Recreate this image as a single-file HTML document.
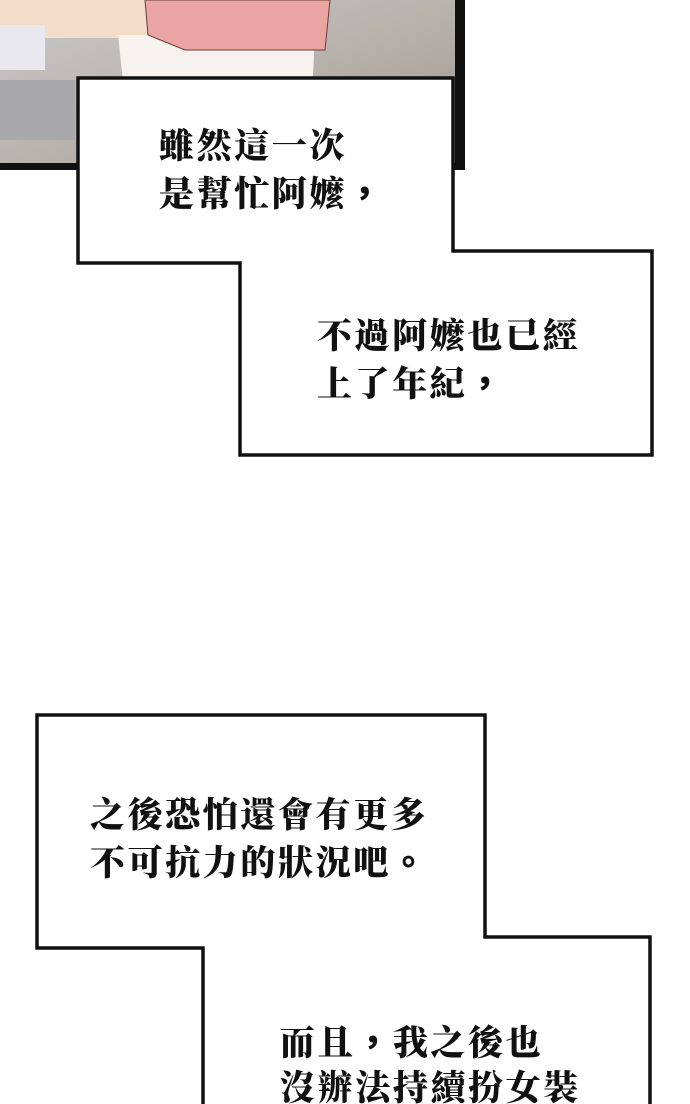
<!DOCTYPE html>
<html><head><meta charset="utf-8"><style>
html,body{margin:0;padding:0;background:#fff;}
#w{position:relative;width:690px;height:1104px;overflow:hidden;background:#fff;}
.t{position:absolute;font-family:"Liberation Serif","Noto Serif CJK SC",serif;font-weight:900;font-size:35px;letter-spacing:2.6px;line-height:45px;color:#111;white-space:nowrap;}
.p{font-family:"Noto Sans CJK TC",sans-serif;font-weight:900;}
</style></head><body><div id="w">
<svg width="690" height="1104" style="position:absolute;left:0;top:0">
<defs>
<linearGradient id="bg" x1="0" y1="0" x2="1" y2="1">
<stop offset="0" stop-color="#c9c9cb"/><stop offset="0.5" stop-color="#b9b3ae"/><stop offset="1" stop-color="#9f948d"/>
</linearGradient>
</defs>
<rect x="0" y="0" width="462" height="166" fill="url(#bg)"/>
<rect x="0" y="0" width="150" height="38" fill="#f3dcc8"/>
<rect x="0" y="25" width="45" height="45" fill="#e8e8ee"/>
<path d="M118 35 L315 35 L312 95 L125 100 Z" fill="#f7f2ee"/>
<path d="M145 0 L330 0 L325 50 L185 50 L148 35 Z" fill="#eaa5a2" stroke="#6b3b3b" stroke-width="1"/>
<rect x="0" y="80" width="75" height="60" fill="#a9a9ab"/>
<rect x="455" y="0" width="10" height="170" fill="#111"/>
<rect x="0" y="163" width="465" height="7" fill="#111"/>
<polygon points="78,78 453,78 453,251 652,251 652,455 240,455 240,263 78,263" fill="#fff" stroke="#111" stroke-width="3.5" stroke-linejoin="miter"/>
<polygon points="37,715 485,715 485,937 650,937 650,1110 203,1110 203,948 37,948" fill="#fff" stroke="#111" stroke-width="3.5"/>
</svg>
<div class="t" style="left:159px;top:124px">雖然這一次<br>是幫忙阿嬤<span class="p">，</span></div>
<div class="t" style="left:317px;top:314px">不過阿嬤也已經<br>上了年紀<span class="p">，</span></div>
<div class="t" style="left:90px;top:793px">之後恐怕還會有更多<br>不可抗力的狀況吧<span class="p">。</span></div>
<div class="t" style="left:280px;top:1018px">而且<span class="p">，</span>我之後也<br>沒辦法持續扮女裝</div>
</div></body></html>
